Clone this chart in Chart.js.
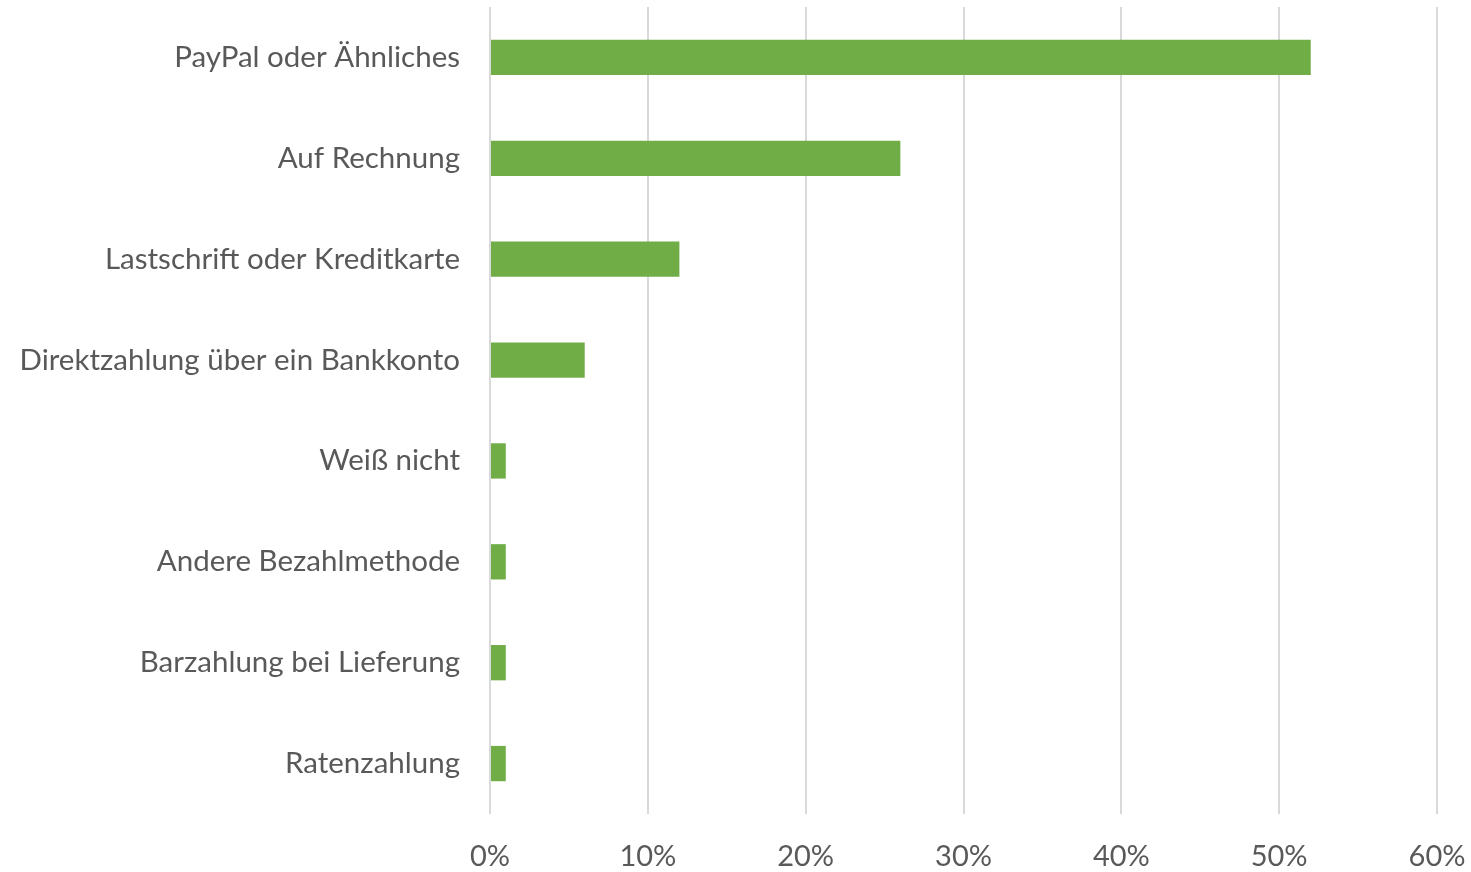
<!DOCTYPE html>
<html>
<head>
<meta charset="utf-8">
<script src="https://cdn.jsdelivr.net/npm/chart.js@4"></script>
<style>
    html, body { margin: 0; padding: 0; background: #fff; }
    #wrap { width: 1471px; height: 872px; }
</style>
</head>
<body>
<div id="wrap"><canvas id="myChart"></canvas></div>
<script>
const methods = [
    'PayPal oder Ähnliches',
    'Auf Rechnung',
    'Lastschrift oder Kreditkarte',
    'Direktzahlung über ein Bankkonto',
    'Weiß nicht',
    'Andere Bezahlmethode',
    'Barzahlung bei Lieferung',
    'Ratenzahlung'
];
const shares = [52, 26, 12, 6, 1, 1, 1, 1]; // percent
const xTicks = [0, 10, 20, 30, 40, 50, 60];

const textColor = '#595959';
const font = { family: 'Lato', size: 29.5 };

const ctx = document.getElementById('myChart').getContext('2d');

new Chart(ctx, {
    type: 'bar',
    data: {
        labels: methods,
        datasets: [{
            data: shares,
            backgroundColor: '#70AD47',
            borderWidth: 0,
            categoryPercentage: 1,
            barPercentage: 0.35
        }]
    },
    options: {
        indexAxis: 'y',
        responsive: true,
        maintainAspectRatio: false,
        animation: false,
        layout: {
            padding: { top: 7, right: 34, bottom: 0, left: 0 }
        },
        plugins: {
            legend: { display: false },
            tooltip: { enabled: false }
        },
        scales: {
            x: {
                min: 0,
                max: 60,
                afterBuildTicks: function(scale) {
                    scale.ticks = xTicks.map(v => ({ value: v }));
                },
                afterFit: function(scale) {
                    scale.height = 58;
                    scale.paddingLeft = 0;
                    scale.paddingRight = 0;
                },
                grid: {
                    color: '#d9d9d9',
                    lineWidth: 2,
                    drawTicks: false
                },
                border: { display: false },
                ticks: {
                    color: textColor,
                    font: { family: 'Lato', size: 29 },
                    padding: 25,
                    maxRotation: 0,
                    callback: function(value) { return value + '%'; }
                }
            },
            y: {
                afterFit: function(scale) {
                    scale.width = 490;
                    scale.paddingTop = 0;
                    scale.paddingBottom = 0;
                },
                grid: { display: false, drawTicks: false },
                border: { display: false },
                ticks: {
                    color: textColor,
                    font: font,
                    padding: 30
                }
            }
        }
    }
});
</script>
</body>
</html>
